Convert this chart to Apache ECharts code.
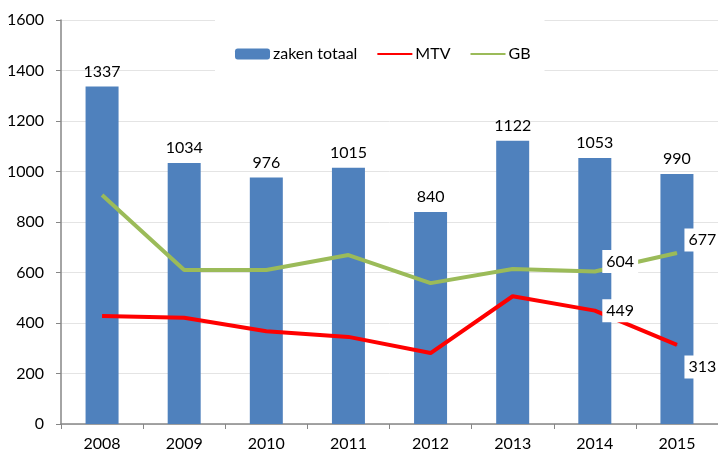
<!DOCTYPE html>
<html>
<head>
<meta charset="utf-8">
<script src="https://cdn.jsdelivr.net/npm/echarts@6/dist/echarts.min.js"></script>
<style>
    html, body { margin: 0; padding: 0; background: #fff; }
    #chart { width: 718px; height: 454px; }
</style>
</head>
<body>
<div id="chart"></div>
<script>
// jaren
var years = ['2008', '2009', '2010', '2011', '2012', '2013', '2014', '2015']
// zaken totaal (staven)
var zakenTotaal = [1337, 1034, 976, 1015, 840, 1122, 1053, 990]
// MTV (rode lijn)
var mtv = [428, 421, 367, 345, 281, 506, 449, 313]
// GB (groene lijn)
var gb = [907, 610, 610, 669, 558, 614, 604, 677]
// label-verschuivingen voor de laatste twee punten
var mtvOffsets = {6: [0, 0], 7: [0, 22]}
var gbOffsets = {6: [0, -10], 7: [0, -13]}

var fontFamily = 'Lato, "Noto Sans", sans-serif'

function lineData(values, offsets) {
    var data = []
    for (var i = 0; i < values.length; i++) {
        var item = { value: values[i] }
        if (offsets[i]) {
            item.symbol = 'circle'
            item.symbolSize = 1
            item.label = {
                show: true,
                position: 'right',
                distance: 7,
                offset: offsets[i],
                backgroundColor: '#fff',
                padding: [4, 4, 3, 4],
                color: '#000',
                fontSize: 16,
                fontFamily: fontFamily
            }
        }
        data.push(item)
    }
    return data
}

var chart = echarts.init(document.getElementById('chart'))
var options = {
    animation: false,
    textStyle: { fontFamily: fontFamily },
    grid: { left: 61, top: 20, width: 662, height: 404, containLabel: false },
    legend: {
        left: 215,
        top: 17,
        padding: [29, 14, 12, 20],
        backgroundColor: '#fff',
        itemGap: 19,
        itemWidth: 35,
        itemHeight: 11,
        textStyle: { fontSize: 16, color: '#000', fontFamily: fontFamily, padding: [0, 0, 0, -2] },
        data: [
            'zaken totaal',
            { name: 'MTV', itemStyle: { opacity: 0 } },
            { name: 'GB', itemStyle: { opacity: 0 } }
        ]
    },
    xAxis: {
        type: 'category',
        data: years,
        axisLine: { lineStyle: { color: '#868686', width: 1.5 } },
        axisTick: { show: true, length: 5, lineStyle: { color: '#868686' } },
        axisLabel: { color: '#000', fontSize: 16, margin: 12, fontFamily: fontFamily }
    },
    yAxis: {
        type: 'value',
        min: 0,
        max: 1600,
        interval: 200,
        axisLine: { show: true, lineStyle: { color: '#868686', width: 1.5 } },
        axisTick: { show: true, length: 5, lineStyle: { color: '#868686' } },
        axisLabel: {
            color: '#000',
            fontSize: 16,
            margin: 17,
            fontFamily: fontFamily,
            formatter: function (value) { return String(value) }
        },
        splitLine: { lineStyle: { color: '#e4e4e4' } }
    },
    series: [
        {
            name: 'zaken totaal',
            type: 'bar',
            data: zakenTotaal,
            barWidth: 33,
            itemStyle: { color: '#4f81bd' },
            label: {
                show: true,
                position: 'top',
                distance: 7,
                color: '#000',
                fontSize: 16,
                fontFamily: fontFamily
            }
        },
        {
            name: 'MTV',
            type: 'line',
            data: lineData(mtv, mtvOffsets),
            symbol: 'none',
            itemStyle: { color: '#ff0000' },
            lineStyle: { color: '#ff0000', width: 4 },
            z: 3
        },
        {
            name: 'GB',
            type: 'line',
            data: lineData(gb, gbOffsets),
            symbol: 'none',
            itemStyle: { color: '#9bbb59' },
            lineStyle: { color: '#9bbb59', width: 4 },
            z: 3
        }
    ]
}
chart.setOption(options)
</script>
</body>
</html>
